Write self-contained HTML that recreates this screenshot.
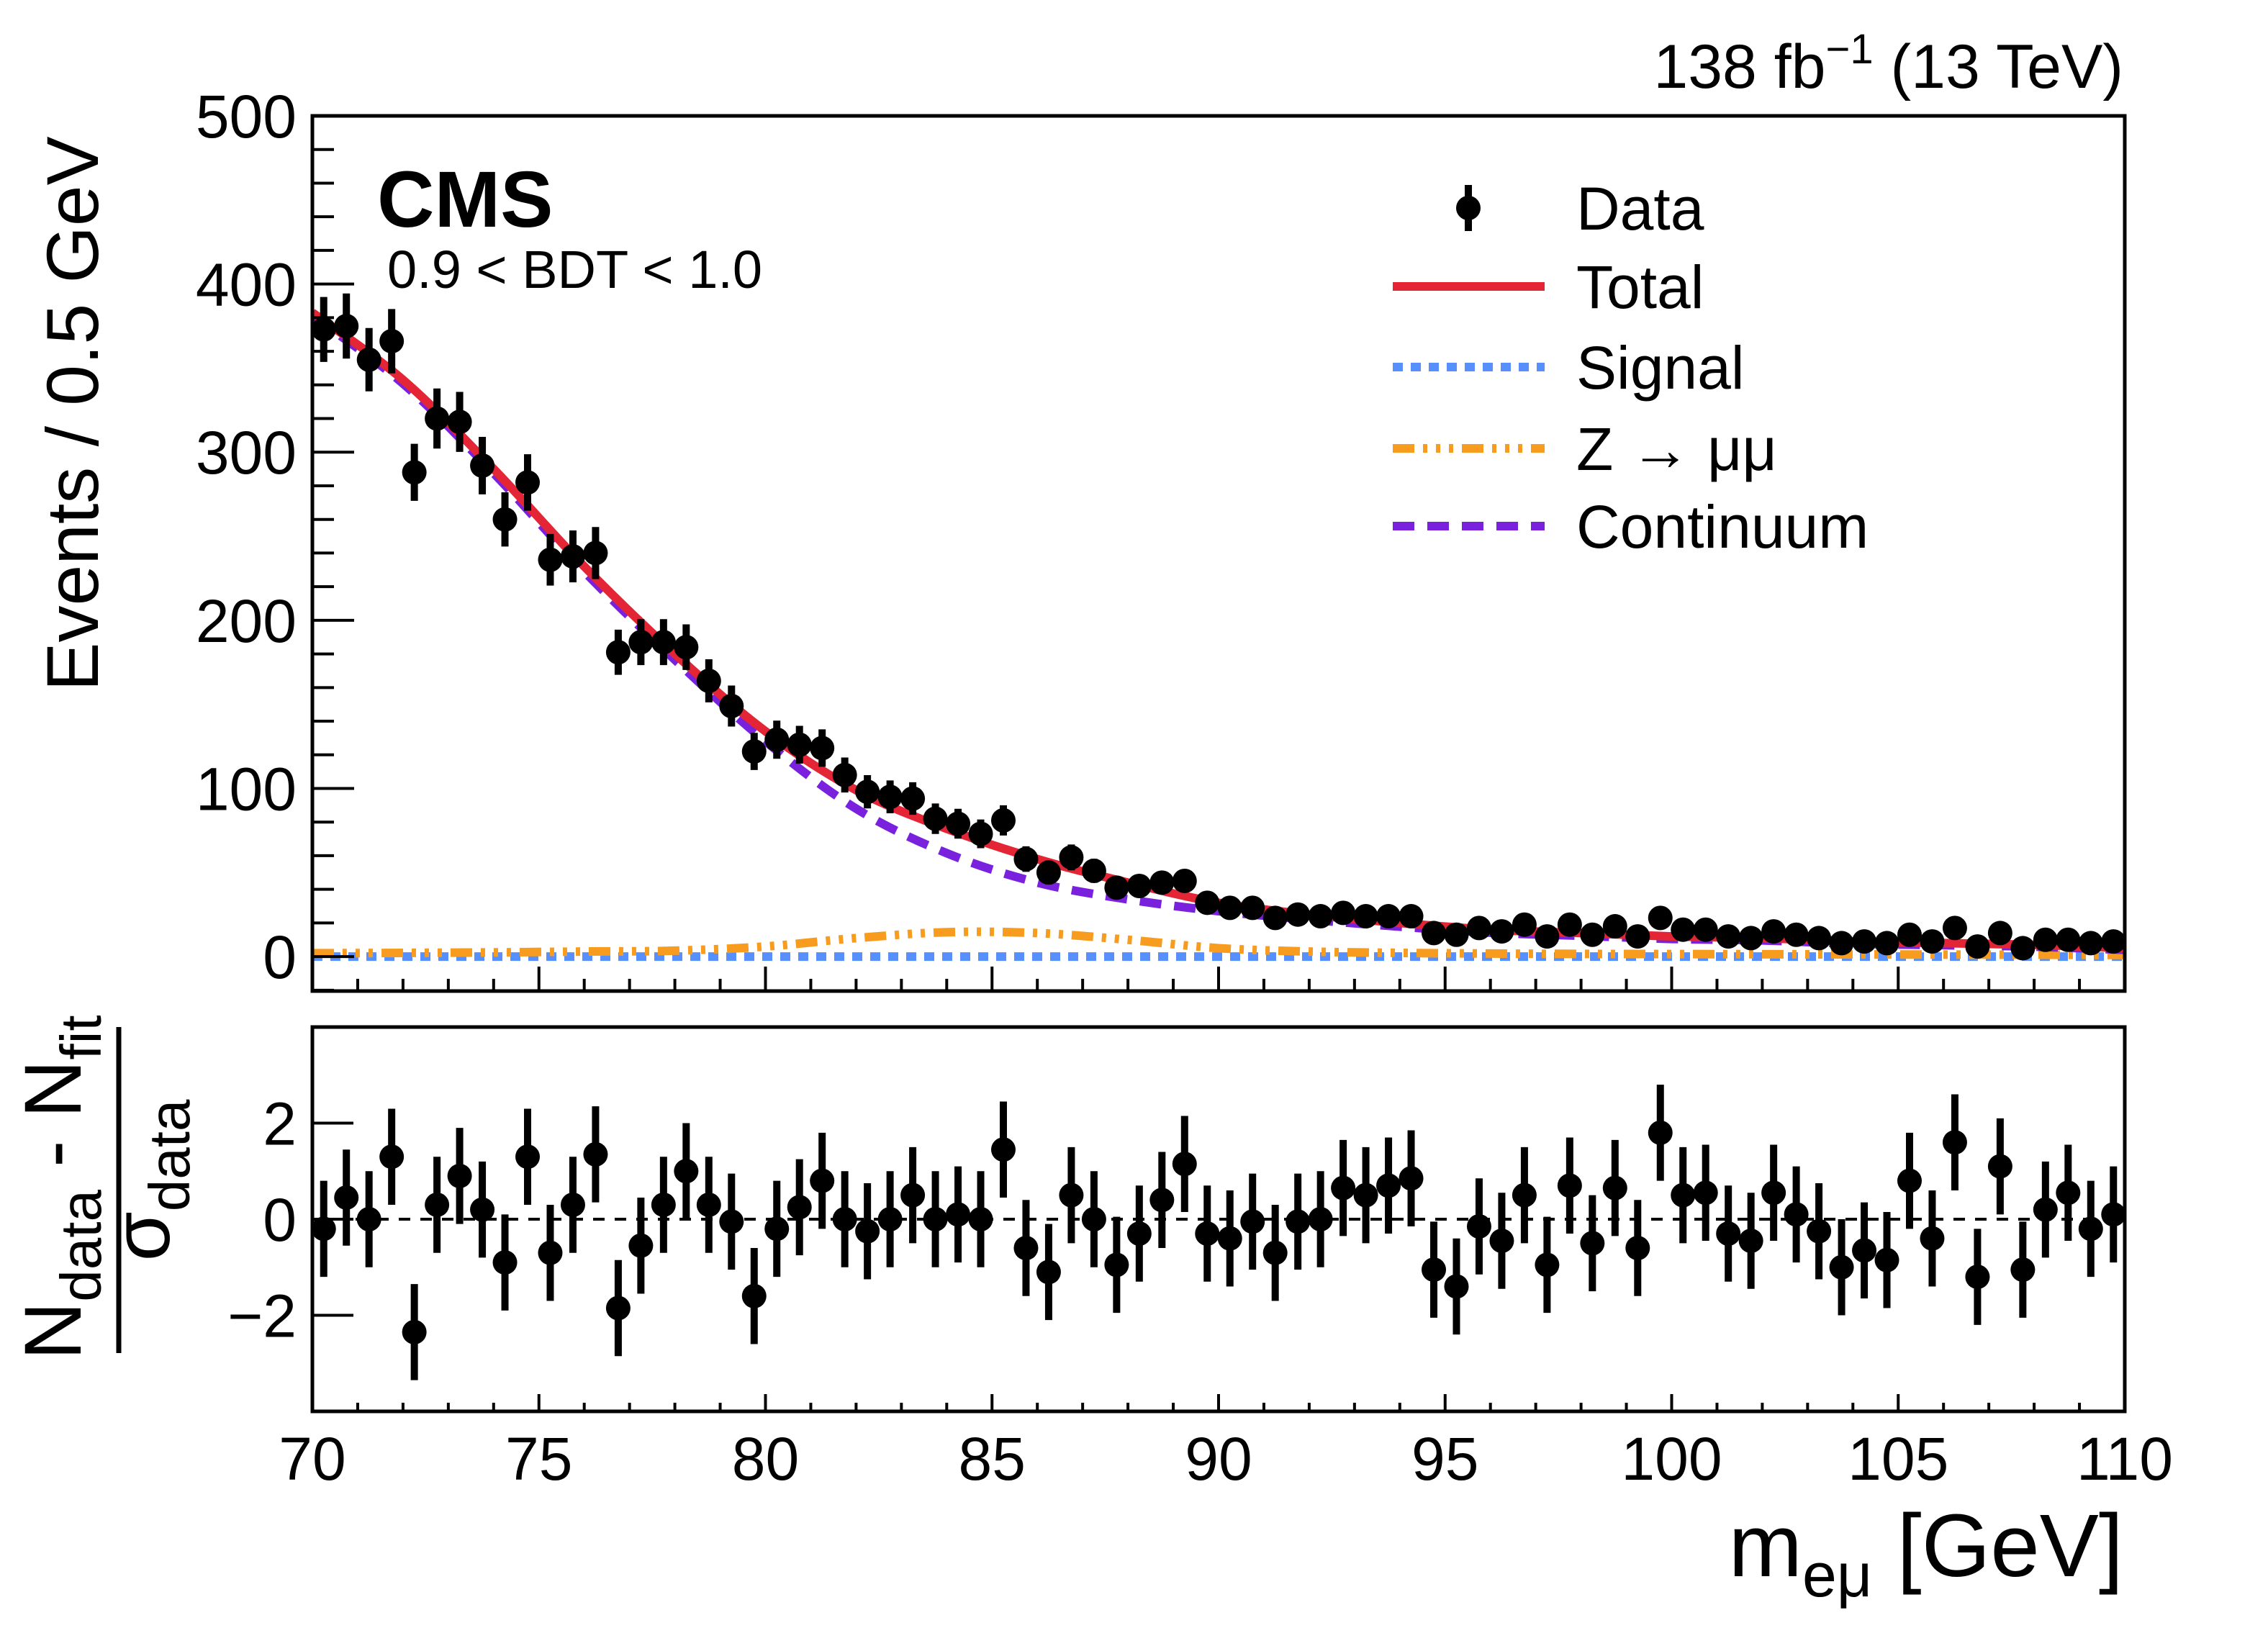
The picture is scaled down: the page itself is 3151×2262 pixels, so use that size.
<!DOCTYPE html>
<html><head><meta charset="utf-8">
<style>
html,body{margin:0;padding:0;background:#fff;}
svg{display:block;}
text{font-family:"Liberation Sans",Arial,sans-serif;fill:#000;}
</style></head>
<body>
<svg id="chart" width="3151" height="2262" viewBox="0 0 3151 2262" xmlns="http://www.w3.org/2000/svg">
<g id="topPanel"></g>
<g id="botPanel"></g>
<g id="labels">
<text x="2950" y="122" font-size="86" text-anchor="end">138 fb<tspan dy="-34" font-size="58">−1</tspan><tspan dy="34"> (13 TeV)</tspan></text>
<text x="524" y="315" font-size="110" font-weight="bold">CMS</text>
<text x="538" y="400" font-size="74">0.9 &lt; BDT &lt; 1.0</text>
<text transform="translate(136,575) rotate(-90)" font-size="102" text-anchor="middle">Events / 0.5 GeV</text>
<text x="2950" y="2190" font-size="123" text-anchor="end">m<tspan dy="28" font-size="86">eμ</tspan><tspan dy="-28"> [GeV]</tspan></text>
<g>
<text transform="translate(112,1650) rotate(-90)" font-size="112" text-anchor="middle">N<tspan dy="28" font-size="80">data</tspan><tspan dy="-28"> - N</tspan><tspan dy="28" font-size="80">fit</tspan></text>
<line x1="165" y1="1427" x2="165" y2="1880" stroke="#000" stroke-width="7"/>
<text transform="translate(235,1640) rotate(-90)" font-size="112" text-anchor="middle">σ<tspan dy="28" font-size="80">data</tspan></text>
</g>
</g>
<g id="legendGroup"></g>
</svg>
<script>
// ---- data ----
const binCenters = [];
for (let i = 0; i < 80; i++) binCenters.push(70.25 + 0.5 * i);
const dataCounts = [373,375,355,366,288,320,318,292,260,282,236,238,240,181,187,187,184,164,149,122,
129,126,124,108,98,95,94,82,79,73,81,58,50,59,51,41,42,44,45,32,
29,29,23,25,24,26,24,24,24,14,13,17,15,19,12,19,13,18,12,23,
16,16,12,11,15,13,11,8,9,8,13,9,17,6,14,5,10,10,8,9];
const pullValues = [-0.2,0.45,0,1.3,-2.35,0.3,0.9,0.2,-0.9,1.3,-0.7,0.3,1.35,-1.85,-0.55,0.3,1.0,0.3,-0.05,-1.6,
-0.2,0.25,0.8,0,-0.25,0,0.5,0,0.1,0,1.45,-0.6,-1.1,0.5,0,-0.95,-0.3,0.4,1.15,-0.3,
-0.4,-0.05,-0.7,-0.05,0,0.65,0.5,0.7,0.85,-1.05,-1.4,-0.15,-0.45,0.5,-0.95,0.7,-0.5,0.65,-0.6,1.8,
0.5,0.55,-0.3,-0.45,0.55,0.1,-0.25,-1.0,-0.65,-0.85,0.8,-0.4,1.6,-1.2,1.1,-1.05,0.2,0.55,-0.2,0.1];
const curveX = [70,72,74,76,78,80,82,84,86,88,90,92,94,96,98,100,102,104,106,108,110];
const totalCurve = [383,343,290,232,180,134,99,76,58,44,32,25,20,16,14,12,11,9,8,7,5];
const zCurve = [2,2.2,2.5,3,3.5,6,11,14.5,14,10,5,3,2.2,1.8,1.6,1.5,1.4,1.3,1.2,1.1,1];
const signalCurve = [0,0,0,0,0,0,0,0,0,0,0,0,0,0,0,0,0,0,0,0,0];
const continuumCurve = totalCurve.map((t,i)=>t - zCurve[i]);
const yTicksTop = [0,100,200,300,400,500];
const yTicksBot = [-2,0,2];
const xTicks = [70,75,80,85,90,95,100,105,110];

// ---- axes ----
const X0=434, X1=2952;
const TT=161, TB=1377, BT=1427, BB=1961;
const xs = v => X0 + (v-70)/(40)*(X1-X0);
const yTop = v => TB + (v-(-20.5))/(500-(-20.5))*(TT-TB);
const yBot = v => BB + (v+4)/8*(BT-BB);
const NS="http://www.w3.org/2000/svg";
function mk(tag, attrs, parent){const e=document.createElementNS(NS,tag);for(const k in attrs)e.setAttribute(k,attrs[k]);parent.appendChild(e);return e;}
const topG=document.getElementById('topPanel'), botG=document.getElementById('botPanel'), legG=document.getElementById('legendGroup');

function smooth(xsArr, ysArr, yf){
  const P = xsArr.map((x,i)=>[xs(x), yf(ysArr[i])]);
  let d = `M${P[0][0]},${P[0][1]}`;
  for (let i=0;i<P.length-1;i++){
    const p0=P[Math.max(0,i-1)],p1=P[i],p2=P[i+1],p3=P[Math.min(P.length-1,i+2)];
    const c1=[p1[0]+(p2[0]-p0[0])/6,p1[1]+(p2[1]-p0[1])/6];
    const c2=[p2[0]-(p3[0]-p1[0])/6,p2[1]-(p3[1]-p1[1])/6];
    d+=` C${c1[0]},${c1[1]} ${c2[0]},${c2[1]} ${p2[0]},${p2[1]}`;
  }
  return d;
}

const defs=mk('defs',{},topG);
const cp=mk('clipPath',{id:'clipTop'},defs);
mk('rect',{x:X0,y:TT,width:X1-X0,height:TB-TT},cp);

const cg=mk('g',{'clip-path':'url(#clipTop)'},topG);
let p;
p=mk('path',{d:smooth(curveX,signalCurve,yTop),fill:'none',stroke:'#5790fc','stroke-width':12,'stroke-dasharray':'14 11'},cg);


p=mk('path',{d:smooth(curveX,zCurve,yTop),fill:'none',stroke:'#f89c20','stroke-width':12,'stroke-dasharray':'30 12 6 12 6 12 6 12'},cg);


p=mk('path',{d:smooth(curveX,continuumCurve,yTop),fill:'none',stroke:'#7a21dd','stroke-width':12,'stroke-dasharray':'30 18'},cg);


p=mk('path',{d:smooth(curveX,totalCurve,yTop),fill:'none',stroke:'#e42536','stroke-width':12},cg);



binCenters.forEach((c,i)=>{
  const n=dataCounts[i], e=Math.sqrt(n);
  const g=mk('g',{},topG);
  
  
  mk('line',{x1:xs(c),x2:xs(c),y1:yTop(n+e),y2:yTop(Math.max(n-e,-20)),stroke:'#000','stroke-width':10},g);
  mk('circle',{cx:xs(c),cy:yTop(n),r:17,fill:'#000'},g);
});

function frame(parent, t, b, name){
  const r=mk('rect',{x:X0,y:t,width:X1-X0,height:b-t,fill:'none',stroke:'#000','stroke-width':5},parent);
  
  
}
frame(topG,TT,TB,'main-frame');
for(let v=-20; v<=500; v+=20){
  const maj = v%100===0;
  mk('line',{x1:X0,x2:X0+(maj?58:30),y1:yTop(v),y2:yTop(v),stroke:'#000','stroke-width':4},topG);
}
yTicksTop.forEach(v=>{
  const t=mk('text',{x:X0-22,y:yTop(v)+30,'font-size':84,'text-anchor':'end'},topG);
  t.textContent=v;
  
  
});
for(let v=70; v<=110; v+=1){
  const maj=v%5===0;
  mk('line',{x1:xs(v),x2:xs(v),y1:TB,y2:TB-(maj?34:17),stroke:'#000','stroke-width':4},topG);
  mk('line',{x1:xs(v),x2:xs(v),y1:BB,y2:BB-(maj?24:12),stroke:'#000','stroke-width':4},botG);
}

frame(botG,BT,BB,'pull-frame');
yTicksBot.forEach(v=>{
  mk('line',{x1:X0,x2:X0+57,y1:yBot(v),y2:yBot(v),stroke:'#000','stroke-width':4},botG);
  const t=mk('text',{x:X0-22,y:yBot(v)+30,'font-size':84,'text-anchor':'end'},botG);
  t.textContent = v<0 ? '−'+Math.abs(v) : v;
  
  
});
let zl=mk('line',{x1:X0,x2:X1,y1:yBot(0),y2:yBot(0),stroke:'#000','stroke-width':4,'stroke-dasharray':'16 14'},botG);


binCenters.forEach((c,i)=>{
  const v=pullValues[i];
  const g=mk('g',{},botG);
  
  
  mk('line',{x1:xs(c),x2:xs(c),y1:yBot(v+1),y2:yBot(v-1),stroke:'#000','stroke-width':10},g);
  mk('circle',{cx:xs(c),cy:yBot(v),r:17,fill:'#000'},g);
});
xTicks.forEach(v=>{
  const t=mk('text',{x:xs(v),y:2056,'font-size':84,'text-anchor':'middle'},botG);
  t.textContent=v;
  
  
});

const legRows=[
 {name:'Data',type:'data'},
 {name:'Total',type:'line',color:'#e42536',dash:''},
 {name:'Signal',type:'line',color:'#5790fc',dash:'14 11'},
 {name:'Z → μμ',type:'line',color:'#f89c20',dash:'30 12 6 12 6 12 6 12'},
 {name:'Continuum',type:'line',color:'#7a21dd',dash:'30 18'}
];
const legY=[289,398,510,623,731];
legRows.forEach((r,i)=>{
  const g=mk('g',{},legG);
  
  
  const y=legY[i];
  if(r.type==='data'){
    mk('line',{x1:2040,x2:2040,y1:y-32,y2:y+32,stroke:'#000','stroke-width':10},g);
    mk('circle',{cx:2040,cy:y,r:17,fill:'#000'},g);
  } else {
    const a={x1:1935,x2:2146,y1:y,y2:y,stroke:r.color,'stroke-width':12};
    if(r.dash)a['stroke-dasharray']=r.dash;
    mk('line',a,g);
  }
  const t=mk('text',{x:2190,y:y+30,'font-size':84},g);
  t.textContent=r.name;
});
</script>
</body></html>
